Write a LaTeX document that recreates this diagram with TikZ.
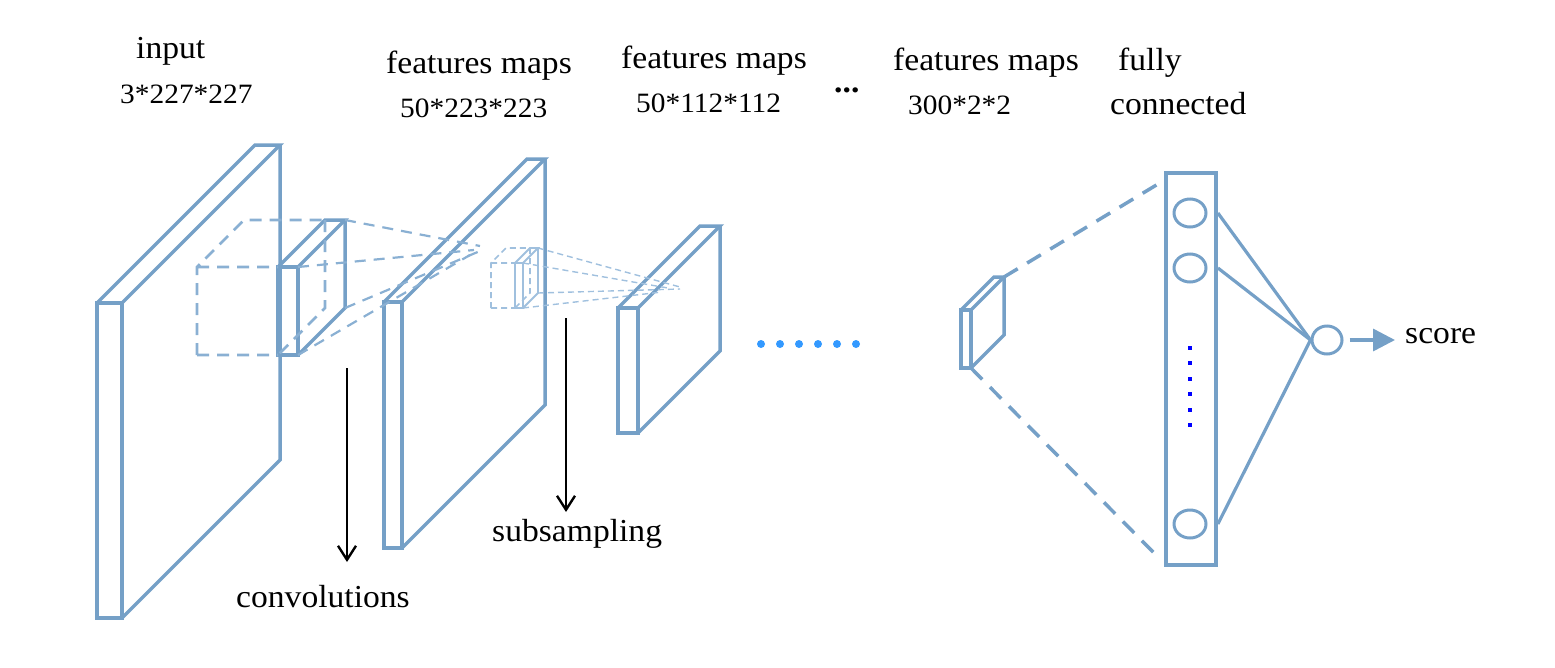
\documentclass[tikz,border=0pt]{standalone}
\usepackage{fontspec}
\setmainfont{Liberation Serif}[FakeStretch=1.05]
\usepackage{tikz}
\usetikzlibrary{arrows.meta,shapes.geometric,calc,positioning}
\definecolor{mapblue}{RGB}{117,160,199}
\definecolor{kernelblue}{RGB}{138,176,211}
\definecolor{rayblue}{RGB}{160,192,222}
\definecolor{dotblue}{RGB}{51,153,255}
\newcommand{\fmap}[6]{%
  \coordinate (#1) at (#2,#3);
  \coordinate (#1-ftr) at ($(#1)+(#4,0)$);
  \coordinate (#1-fbr) at ($(#1)+(#4,#5)$);
  \coordinate (#1-btr) at ($(#1)+(#4+#6,-#6)$);
  \coordinate (#1-bbr) at ($(#1)+(#4+#6,#5-#6)$);
  \draw (#1) rectangle (#1-fbr);
  \draw (#1) -- ++(#6,-#6) -- (#1-btr) -- (#1-ftr);
  \draw (#1-btr) -- (#1-bbr) -- (#1-fbr);
}

\begin{document}
\begin{tikzpicture}[x=1pt,y=-1pt]
\tikzset{MAP/.style={draw=mapblue,line width=3.5pt}}
\tikzset{KERNEL/.style={draw=kernelblue,line width=2.8pt,dash pattern=on 12pt off 8pt}}
\tikzset{SMALL KERNEL/.style={draw=rayblue,line width=1.6pt,dash pattern=on 6pt off 4pt}}
\tikzset{RAY/.style={draw=kernelblue,line width=2.2pt,dash pattern=on 11pt off 8pt}}
\tikzset{SMALL RAY/.style={draw=rayblue,line width=1.4pt,dash pattern=on 6pt off 4pt}}
\tikzset{FC RAY/.style={draw=mapblue,line width=3.5pt,dash pattern=on 16pt off 11pt}}
\tikzset{NEURON/.style={draw=mapblue,line width=3pt,ellipse,minimum width=32pt,minimum height=28pt,inner sep=0pt}}
\tikzset{LINK/.style={draw=mapblue,line width=3.2pt}}
\tikzset{STEP ARROW/.style={draw=black,line width=2.4pt,-{Straight Barb[length=14pt,width=18pt,line width=2.4pt]}}}
\tikzset{TITLE/.style={anchor=base west,inner sep=0pt,font=\fontsize{32}{38}\selectfont}}
\tikzset{SIZE/.style={anchor=base west,inner sep=0pt,font=\fontsize{28}{33}\selectfont}}

\useasboundingbox (0,0) rectangle (1555,667);

% labels
\node[TITLE] (input title) at (136,58) {input};
\node[SIZE] (input size) at (120,103) {3*227*227};
\node[TITLE] (conv title) at (386,73) {features maps};
\node[SIZE] (conv size) at (400,117) {50*223*223};
\node[TITLE] (pool title) at (621,68) {features maps};
\node[SIZE] (pool size) at (636,112) {50*112*112};
\node[TITLE,font=\fontsize{32}{38}\selectfont\bfseries] (more) at (834,92) {...};
\node[TITLE] (last title) at (893,70) {features maps};
\node[SIZE] (last size) at (908,114) {300*2*2};
\node[TITLE] (fc title) at (1118,70) {fully};
\node[TITLE] (fc title2) at (1110,114) {connected};

% feature maps
\begin{scope}[MAP]
\fmap{input}{97}{303}{25}{315}{158}
\fmap{conv}{384}{302}{18}{246}{143}
\fmap{pool}{618}{308}{20}{125}{82}
\fmap{last}{961}{310}{10}{58}{33}
\fmap{kernel}{278}{267}{20}{88}{47}
\end{scope}
\begin{scope}[draw=rayblue,line width=1.8pt]
\fmap{window}{515}{263}{8}{45}{15}
\end{scope}

% convolution window
\path[KERNEL] (197,267) -- (278,267) (197,355) -- (197,267) -- (244,220) -- (325,220)
  (197,355) -- (278,355);
\path[KERNEL] (325,220) -- (325,308) -- (278,355);
\coordinate (conv hit1) at (480,246);
\coordinate (conv hit2) at (474,250);
\coordinate (conv hit3) at (480,251);
\coordinate (conv hit4) at (470,255);
\path[RAY] (kernel-btr) -- (conv hit1);
\path[RAY] (kernel-ftr) -- (conv hit2);
\path[RAY] (kernel-bbr) -- (conv hit3);
\path[RAY] (kernel-fbr) -- (conv hit4);

% pooling window
\path[SMALL KERNEL] (491,263) -- (515,263) (491,308) -- (491,263) -- (506,248) -- (530,248)
  (491,308) -- (515,308);
\path[SMALL KERNEL] (530,248) -- (530,293) -- (515,308);
\coordinate (pool hit1) at (680,287);
\coordinate (pool hit2) at (668,288);
\coordinate (pool hit3) at (680,289);
\coordinate (pool hit4) at (662,292);
\path[SMALL RAY] (window-btr) -- (pool hit1);
\path[SMALL RAY] (window-ftr) -- (pool hit2);
\path[SMALL RAY] (window-bbr) -- (pool hit3);
\path[SMALL RAY] (window-fbr) -- (pool hit4);

% steps
\coordinate (conv from) at (347,368);
\coordinate (conv to) at (347,562);
\draw[STEP ARROW] (conv from) -- (conv to);
\node[TITLE] (conv step) at (236,607) {convolutions};
\coordinate (pool from) at (566,318);
\coordinate (pool to) at (566,512);
\draw[STEP ARROW] (pool from) -- (pool to);
\node[TITLE] (pool step) at (492,541) {subsampling};

% gap
\foreach \i in {0,...,5}
  \fill[dotblue] (761+19*\i,344) circle (4pt);

% fully connected
\node[draw=mapblue,line width=3.8pt,minimum width=50pt,minimum height=392pt,inner sep=0pt] (fc) at (1191,369) {};
\node[NEURON] (h1) at (1190,213) {};
\node[NEURON] (h2) at (1190,268) {};
\node[NEURON] (h3) at (1190,524) {};
\foreach \i in {0,...,5}
  \fill[blue] (1188,346+15.4*\i) rectangle ++(4,4);
\coordinate (fc top) at (1163,181);
\coordinate (fc bottom) at (1158,557);
\path[FC RAY] (last-btr) -- (fc top);
\path[FC RAY] (last-fbr) -- (fc bottom);

\node[NEURON,minimum width=30pt] (out) at (1327,340) {};
\path[LINK] (fc.east |- h1) -- (out.west);
\path[LINK] (fc.east |- h2) -- (out.west);
\path[LINK] (fc.east |- h3) -- (out.west);
\node[TITLE] (score) at (1405,343) {score};
\draw[draw=mapblue,line width=3.5pt,-{Triangle[length=22pt,width=22pt]},shorten <=6pt,shorten >=10pt]
  (out.east) -- (out.east -| score.west);
\end{tikzpicture}
\end{document}
